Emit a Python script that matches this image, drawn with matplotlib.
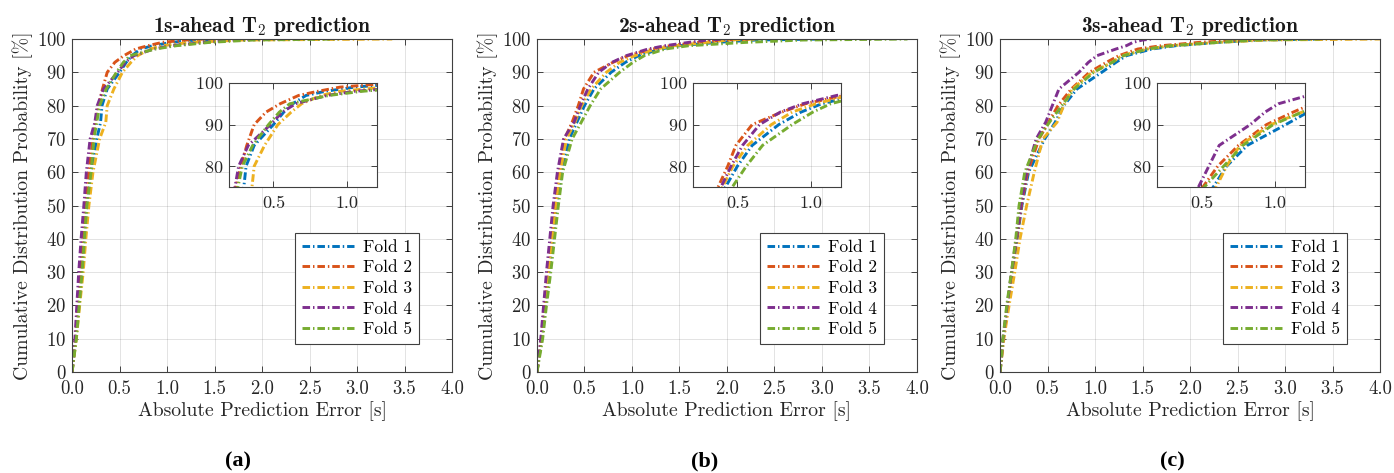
import matplotlib
matplotlib.use('Agg')
import matplotlib.pyplot as plt
from matplotlib.ticker import FormatStrFormatter

# %% Fonts (LaTeX-like look)
plt.rcParams['font.family'] = 'cmr10'
plt.rcParams['mathtext.fontset'] = 'cm'
plt.rcParams['axes.formatter.use_mathtext'] = True

# %% Data
# cumulative probability levels [%] shared by every curve
cdf_levels = [0, 10, 20, 30, 40, 50, 60, 70, 75, 80, 85, 90, 93, 95, 97, 98, 99, 99.7, 100]

fold_names = ['Fold 1', 'Fold 2', 'Fold 3', 'Fold 4', 'Fold 5']
fold_colors = ['#0072BD', '#D95319', '#EDB120', '#7E2F8E', '#77AC30']
horizons = ['1s', '2s', '3s']
panel_tags = ['a', 'b', 'c']

# absolute prediction error [s] at each cdf level, one list per fold
err_1s = [
    [0, 0.04, 0.07, 0.10, 0.13, 0.155, 0.20, 0.26, 0.30, 0.315, 0.37, 0.50, 0.57, 0.63, 0.72, 0.85, 1.05, 1.3, 1.6],
    [0, 0.035, 0.06, 0.09, 0.115, 0.14, 0.175, 0.22, 0.245, 0.28, 0.32, 0.37, 0.45, 0.545, 0.67, 0.80, 0.95, 1.2, 1.4],
    [0, 0.045, 0.08, 0.117, 0.145, 0.177, 0.22, 0.29, 0.355, 0.37, 0.44, 0.53, 0.62, 0.69, 0.82, 0.95, 1.25, 1.8, 3.37],
    [0, 0.03, 0.05, 0.07, 0.095, 0.124, 0.15, 0.19, 0.24, 0.265, 0.33, 0.48, 0.56, 0.65, 0.86, 1.05, 1.4, 1.7, 2.2],
    [0, 0.045, 0.075, 0.106, 0.13, 0.156, 0.20, 0.23, 0.26, 0.29, 0.36, 0.467, 0.54, 0.61, 0.875, 1.1, 1.45, 1.9, 2.8],
]
err_2s = [
    [0, 0.05, 0.09, 0.13, 0.17, 0.205, 0.26, 0.34, 0.42, 0.50, 0.60, 0.78, 0.93, 1.07, 1.30, 1.5, 1.9, 2.3, 3.0],
    [0, 0.045, 0.08, 0.12, 0.155, 0.19, 0.235, 0.29, 0.37, 0.435, 0.49, 0.60, 0.80, 0.96, 1.22, 1.4, 1.7, 2.0, 2.3],
    [0, 0.05, 0.085, 0.125, 0.16, 0.20, 0.245, 0.31, 0.40, 0.47, 0.57, 0.73, 0.87, 1.03, 1.25, 1.45, 1.8, 2.0, 2.3],
    [0, 0.04, 0.07, 0.10, 0.135, 0.17, 0.215, 0.28, 0.39, 0.457, 0.535, 0.65, 0.79, 0.94, 1.17, 1.35, 1.6, 1.8, 2.0],
    [0, 0.06, 0.10, 0.145, 0.185, 0.225, 0.27, 0.37, 0.466, 0.56, 0.67, 0.87, 1.01, 1.13, 1.35, 1.6, 2.2, 2.8, 3.9],
]
err_3s = [
    [0, 0.035, 0.08, 0.13, 0.18, 0.23, 0.30, 0.47, 0.58, 0.67, 0.81, 1.07, 1.22, 1.33, 1.6, 1.85, 2.3, 2.7, 3.4],
    [0, 0.035, 0.08, 0.125, 0.175, 0.225, 0.29, 0.41, 0.51, 0.61, 0.75, 0.94, 1.12, 1.25, 1.45, 1.7, 2.1, 2.5, 3.0],
    [0, 0.04, 0.095, 0.155, 0.21, 0.28, 0.36, 0.45, 0.60, 0.67, 0.76, 0.97, 1.18, 1.28, 1.55, 1.8, 2.3, 2.8, 4.0],
    [0, 0.03, 0.075, 0.12, 0.17, 0.22, 0.28, 0.38, 0.48, 0.55, 0.62, 0.83, 0.93, 1.02, 1.22, 1.33, 1.4, 1.5, 1.6],
    [0, 0.03, 0.07, 0.12, 0.165, 0.20, 0.26, 0.40, 0.52, 0.65, 0.78, 0.985, 1.18, 1.30, 1.55, 1.8, 2.3, 2.7, 3.37],
]
panel_errors = [err_1s, err_2s, err_3s]

x_ticks = [0, 0.5, 1.0, 1.5, 2.0, 2.5, 3.0, 3.5, 4.0]
y_ticks = [0, 10, 20, 30, 40, 50, 60, 70, 80, 90, 100]
inset_x_ticks = [0.5, 1.0]
inset_y_ticks = [80, 90, 100]

# %% Layout (figure fractions)
main_lefts = [0.0517, 0.3852, 0.7174]
inset_lefts = [0.1643, 0.4971, 0.8300]
tag_x = [0.1707, 0.5057, 0.8408]

ax_color = '#404040'
line_style = (0, (2.6, 1.0, 0.5, 1.0))


def style_axes(ax, size):
    ax.tick_params(direction='in', top=True, right=True, length=4, width=0.7,
                   color=ax_color, labelcolor='#262626', labelsize=size)
    ax.tick_params(axis='x', pad=6)
    ax.tick_params(axis='y', pad=4)
    for s in ax.spines.values():
        s.set_color(ax_color)
        s.set_linewidth(0.8)
    ax.grid(True, color='#262626', alpha=0.13, linewidth=0.7)
    ax.set_axisbelow(True)


fig = plt.figure(figsize=(13.94, 4.73), dpi=100)

for k in range(3):
    ax = fig.add_axes([main_lefts[k], 0.2135, 0.2726, 0.704])
    for err, name, col in zip(panel_errors[k], fold_names, fold_colors):
        ax.plot(err, cdf_levels, color=col, lw=2.1, linestyle=line_style, label=name)
    ax.set_xlim(0, 4)
    ax.set_ylim(0, 100)
    ax.set_xticks(x_ticks)
    ax.set_yticks(y_ticks)
    ax.xaxis.set_major_formatter(FormatStrFormatter('%.1f'))
    style_axes(ax, 13.5)
    ax.set_xlabel('Absolute Prediction Error [s]', fontsize=14.2, color='#262626', labelpad=2)
    ax.set_ylabel('Cumulative Distribution Probability [%]', fontsize=14.2, color='#262626', labelpad=3)
    ax.set_title(horizons[k] + r'-ahead $\mathbf{T_2}$ prediction', fontfamily='cmb10',
                 fontsize=15.5, pad=5, color='#1a1a1a')
    leg = ax.legend(loc='lower right', bbox_to_anchor=(0.913, 0.084), borderaxespad=0,
                    fontsize=12.5, handlelength=3.0, fancybox=False, edgecolor=ax_color,
                    framealpha=1, borderpad=0.4, labelspacing=0.3, handletextpad=0.5)
    leg.get_frame().set_linewidth(0.8)

    # zoomed inset
    ins = fig.add_axes([inset_lefts[k], 0.6047, 0.1062, 0.2199])
    for err, col in zip(panel_errors[k], fold_colors):
        ins.plot(err, cdf_levels, color=col, lw=2.1, linestyle=line_style)
    ins.set_xlim(0.2, 1.2)
    ins.set_ylim(75, 100)
    ins.set_xticks(inset_x_ticks)
    ins.set_yticks(inset_y_ticks)
    ins.xaxis.set_major_formatter(FormatStrFormatter('%.1f'))
    style_axes(ins, 13)
    ins.set_facecolor('white')

    fig.text(tag_x[k], 0.025, '(' + panel_tags[k] + ')', ha='center', va='center',
             fontsize=16, fontweight='bold', family='Liberation Serif')

fig.savefig('out.png', dpi=100)
